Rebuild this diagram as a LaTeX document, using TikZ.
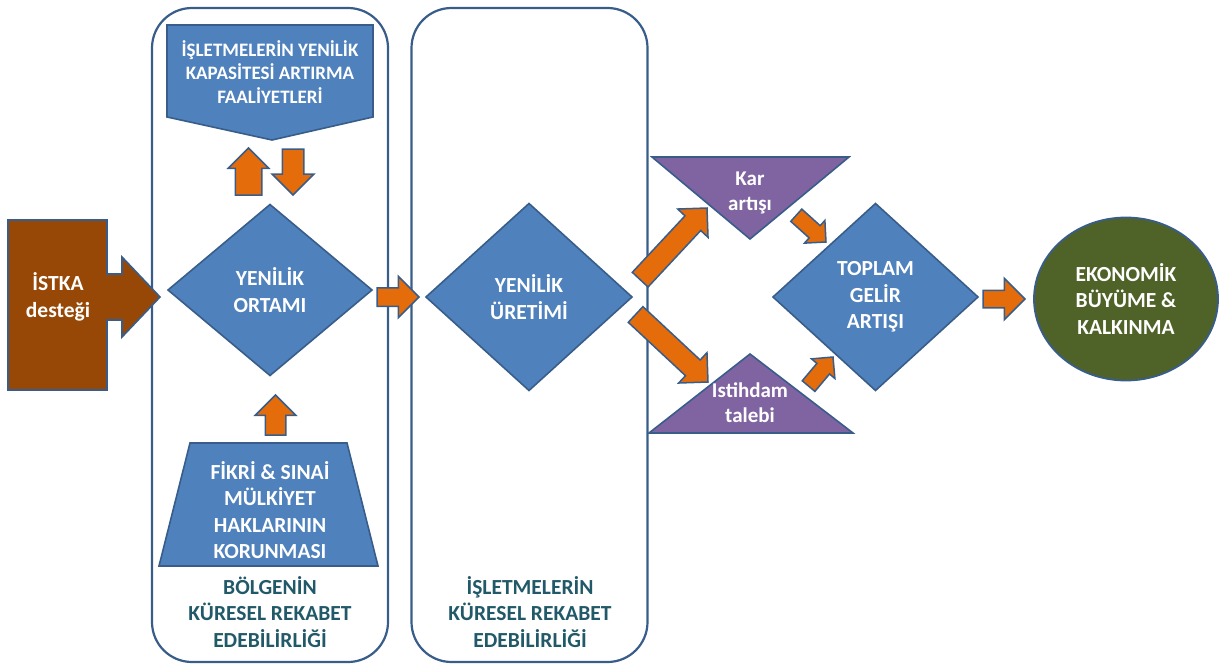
\documentclass[tikz,border=0pt]{standalone}
\usepackage{fontspec}
\setmainfont{Carlito}
\usetikzlibrary{shapes.geometric,shapes.arrows}
\definecolor{bfill}{HTML}{4F81BD}
\definecolor{bstroke}{HTML}{385D8A}
\definecolor{aorange}{HTML}{E46C0A}
\definecolor{brownf}{HTML}{974806}
\definecolor{purplef}{HTML}{8064A2}
\definecolor{greenf}{HTML}{4F6228}
\definecolor{tealt}{HTML}{215968}
\tikzset{
  container/.style={draw=bstroke, line width=2.2pt, rounded corners=40pt, minimum width=236pt, minimum height=654pt, inner sep=0pt},
  shapebox/.style={draw=bstroke, line width=1.6pt, fill=bfill},
  wtext/.style={text=white, align=center, font=\fontsize{21.5}{26.5}\selectfont\bfseries, inner sep=0pt},
  ltext/.style={text=tealt, align=center, font=\fontsize{21.5}{26.5}\selectfont\bfseries, inner sep=0pt},
  dia/.style={diamond, shapebox, inner sep=0pt, outer sep=0pt},
  barrow/.style={single arrow, draw=bstroke, fill=aorange, line width=1.5pt, inner sep=0pt, outer sep=0pt, single arrow head indent=0pt, anchor=tip}
}
\begin{document}
\begin{tikzpicture}[x=1pt,y=-1pt]
\useasboundingbox (0,0) rectangle (1223,666);
% containers
\node[container] (leftbox) at (270,335) {};
\node[container] (midbox) at (529.5,335) {};
% ISTKA callout arrow
\draw[draw=bstroke, line width=1.6pt, fill=brownf] (8,220) -- (107,220) -- (107,274) -- (122,274) -- (122,257) -- (160,297) -- (122,337) -- (122,320) -- (107,320) -- (107,390) -- (8,390) -- cycle;
\node[wtext] (istka) at (58,297) {İSTKA\\desteği};
% pentagon
\draw[shapebox] (167,25) -- (373,25) -- (373,117) -- (272,140) -- (167,117) -- cycle;
\node[wtext, font=\fontsize{19}{23.5}\selectfont\bfseries] (penta) at (270,72) {İŞLETMELERİN YENİLİK\\KAPASİTESİ ARTIRMA\\FAALİYETLERİ};
% trapezium
\draw[shapebox] (190,443) -- (347,443) -- (378,566) -- (159,566) -- cycle;
\node[wtext] (trap) at (270,510) {FİKRİ \& SINAİ\\MÜLKİYET\\HAKLARININ\\KORUNMASI};
% diamonds
\node[dia, minimum width=204, minimum height=171] (ortam) at (270,290) {};
\node[wtext] at (ortam.center) {YENİLİK\\ORTAMI};
\node[dia, minimum width=206, minimum height=187] (uretim) at (529,297) {};
\node[wtext] at (uretim.center) {YENİLİK\\ÜRETİMİ};
\node[dia, minimum width=205, minimum height=187] (toplam) at (875.5,297) {};
\node[wtext] at (toplam.center) {TOPLAM\\GELİR\\ARTIŞI};
% triangles
\draw[draw=bstroke, line width=1.6pt, fill=purplef] (652,157) -- (849,157) -- (750,239) -- cycle;
\node[wtext, font=\fontsize{21}{25}\selectfont\bfseries] (kar) at (750,193) {Kar\\artışı};
\draw[draw=bstroke, line width=1.6pt, fill=purplef] (750,354) -- (853,433) -- (649,433) -- cycle;
\node[wtext, font=\fontsize{21}{25}\selectfont\bfseries] (istihdam) at (750,403) {Istihdam\\talebi};
% ellipse
\node[ellipse, draw=bstroke, line width=1.8pt, fill=greenf, minimum width=184, minimum height=163, inner sep=0pt] (eko) at (1126,299) {};
\node[wtext] at (eko.center) {EKONOMİK\\BÜYÜME \&\\KALKINMA};
% bottom labels
\node[ltext] (lab1) at (270,612) {BÖLGENİN\\KÜRESEL REKABET\\EDEBİLİRLİĞİ};
\node[ltext] (lab2) at (530,612) {İŞLETMELERİN\\KÜRESEL REKABET\\EDEBİLİRLİĞİ};
% block arrows
\node[barrow, minimum height=47, inner ysep=12.5, single arrow head extend=7, rotate=90] (a1) at (248.5,148) {};
\node[barrow, minimum height=46, inner ysep=10, single arrow head extend=10, rotate=-90] (a2) at (293,195) {};
\node[barrow, minimum height=40, inner ysep=9.5, single arrow head extend=10, rotate=90] (a3) at (275.5,395) {};
\node[barrow, minimum height=42, inner ysep=8.5, single arrow head extend=11.5] (a4) at (419,297) {};
\node[barrow, minimum height=98, inner ysep=10, single arrow head extend=10, rotate=47] (a5) at (707,208) {};
\node[barrow, minimum height=99, inner ysep=10, single arrow head extend=10, rotate=-43] (a6) at (708,382) {};
\node[barrow, minimum height=40, inner ysep=7.5, single arrow head extend=7, rotate=-42] (a7) at (826,242) {};
\node[barrow, minimum height=38, inner ysep=7.5, single arrow head extend=7, rotate=50] (a8) at (833,357) {};
\node[barrow, minimum height=42, inner ysep=8, single arrow head extend=12, rotate=0] (a9) at (1025,299) {};
\end{tikzpicture}
\end{document}
